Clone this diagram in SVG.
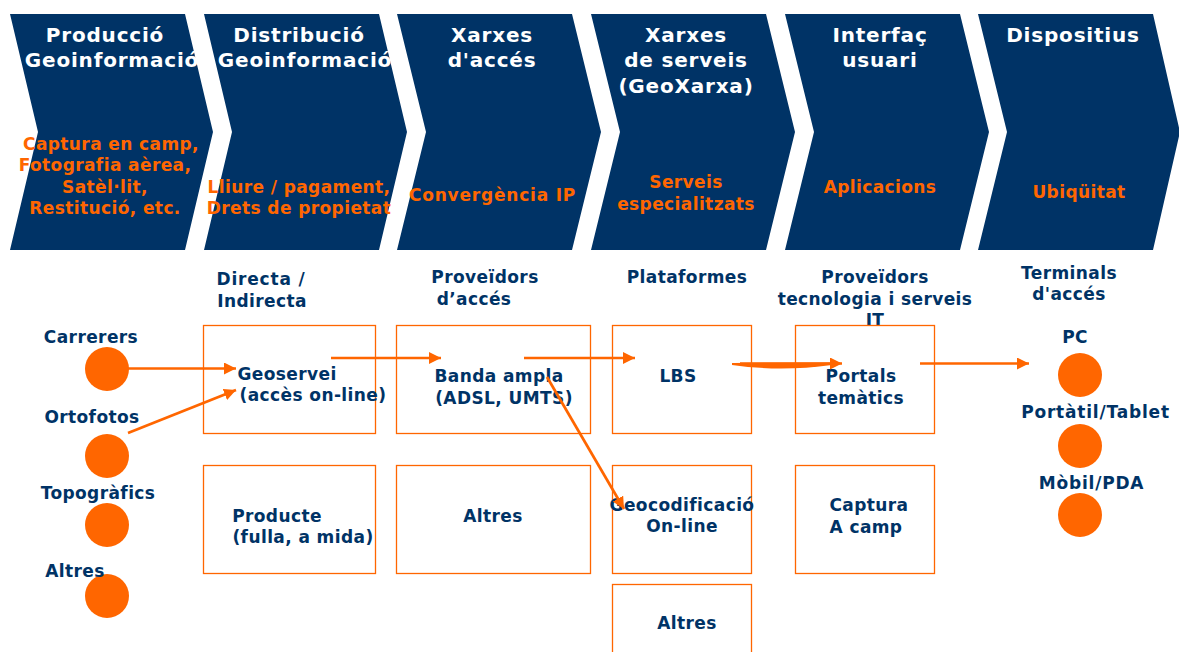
<svg xmlns="http://www.w3.org/2000/svg" width="1179" height="652" viewBox="0 0 1179 652">
<style>
text{font-family:Verdana,"DejaVu Sans",sans-serif;font-weight:700;text-anchor:middle;letter-spacing:.4px}
.h{font-size:20px;fill:#fff;letter-spacing:.8px}
.o{font-size:17px;fill:#ff6600}
.d{font-size:17px;fill:#003366}
.w{letter-spacing:.8px}
.chev{fill:#003366}
.box{fill:none;stroke:#ff6600;stroke-width:1.3}
.dot{fill:#ff6600}
.arr{stroke:#ff6600;stroke-width:2.7;fill:none;marker-end:url(#a)}
</style>
<defs><marker id="a" markerUnits="userSpaceOnUse" markerWidth="12" markerHeight="12" refX="12" refY="6" orient="auto"><path d="M0 0L12 6L0 12z" fill="#ff6600"/></marker></defs>
<g id="step1"><path class="chev" d="M10 14H185L213 132L185 250H10L38 132z"/><text class="h" x="105" y="42">Producció</text><text class="h" x="112" y="67">Geoinformació</text><text class="o" x="111" y="150">Captura en camp,</text><text class="o" x="105" y="171">Fotografia aèrea,</text><text class="o" x="105" y="193">Satèl·lit,</text><text class="o" x="105" y="214">Restitució, etc.</text></g>
<g id="step2"><path class="chev" d="M204 14H379L407 132L379 250H204L232 132z"/><text class="h" x="299" y="42">Distribució</text><text class="h" x="305" y="67">Geoinformació</text><text class="o" x="299" y="193">Lliure / pagament,</text><text class="o" x="299" y="214">Drets de propietat</text></g>
<g id="step3"><path class="chev" d="M397 14H572L601 132L572 250H397L426 132z"/><text class="h" x="492" y="42">Xarxes</text><text class="h" x="492" y="67">d'accés</text><text class="o w" x="492.500" y="201">Convergència IP</text></g>
<g id="step4"><path class="chev" d="M591 14H766L795 132L766 250H591L620 132z"/><text class="h" x="686" y="42">Xarxes</text><text class="h" x="686" y="67">de serveis</text><text class="h" x="686" y="93">(GeoXarxa)</text><text class="o" x="686" y="188">Serveis</text><text class="o" x="686" y="210">especialitzats</text></g>
<g id="step5"><path class="chev" d="M785 14H960L989 132L960 250H785L814 132z"/><text class="h" x="880" y="42">Interfaç</text><text class="h" x="880" y="67">usuari</text><text class="o" x="880" y="193">Aplicacions</text></g>
<g id="step6"><path class="chev" d="M978 14H1153L1180 132L1153 250H978L1007 132z"/><text class="h" x="1073" y="42">Dispositius</text><text class="o" x="1079" y="198">Ubiqüitat</text></g>
<g id="head-directa"><text class="d w" x="261" y="285">Directa /</text><text class="d" x="262" y="307">Indirecta</text></g>
<g id="head-proveidors"><text class="d" x="485" y="283">Proveïdors</text><text class="d" x="474" y="305">d’accés</text></g>
<g id="head-plataformes"><text class="d" x="687" y="283">Plataformes</text></g>
<g id="head-tecnologia"><text class="d" x="875" y="283">Proveïdors</text><text class="d" x="875" y="305">tecnologia i serveis</text><text class="d" x="875" y="326">IT</text></g>
<g id="head-terminals"><text class="d" x="1069" y="279">Terminals</text><text class="d" x="1069" y="300">d'accés</text></g>
<g id="box-geoservei"><rect class="box" x="203.500" y="325.500" width="172" height="108"/><text class="d" x="287" y="380">Geoservei</text><text class="d" x="313" y="401">(accès on-line)</text></g>
<g id="box-banda"><rect class="box" x="396.500" y="325.500" width="194" height="108"/><text class="d" x="499" y="382">Banda ampla</text><text class="d" x="504" y="404">(ADSL, UMTS)</text></g>
<g id="box-lbs"><rect class="box" x="612.500" y="325.500" width="139" height="108"/><text class="d" x="678" y="382">LBS</text></g>
<g id="box-portals"><rect class="box" x="795.500" y="325.500" width="139" height="108"/><text class="d" x="861" y="382">Portals</text><text class="d" x="861" y="404">temàtics</text></g>
<g id="box-producte"><rect class="box" x="203.500" y="465.500" width="172" height="108"/><text class="d" x="277" y="522">Producte</text><text class="d" x="303" y="543">(fulla, a mida)</text></g>
<g id="box-altres1"><rect class="box" x="396.500" y="465.500" width="194" height="108"/><text class="d" x="493" y="522">Altres</text></g>
<g id="box-geocod"><rect class="box" x="612.500" y="465.500" width="139" height="108"/><text class="d" x="682" y="511">Geocodificació</text><text class="d" x="682" y="532">On-line</text></g>
<g id="box-captura"><rect class="box" x="795.500" y="465.500" width="139" height="108"/><text class="d" x="869" y="511">Captura</text><text class="d" x="866" y="533">A camp</text></g>
<g id="box-altres2"><rect class="box" x="612.500" y="584.500" width="139" height="80"/><text class="d" x="687" y="629">Altres</text></g>
<g id="src-carrerers"><circle class="dot" cx="107" cy="369" r="22"/><text class="d" x="91" y="343">Carrerers</text></g>
<g id="src-ortofotos"><circle class="dot" cx="107" cy="456" r="22"/><text class="d" x="92" y="423">Ortofotos</text></g>
<g id="src-topografics"><circle class="dot" cx="107" cy="525" r="22"/><text class="d" x="98" y="499">Topogràfics</text></g>
<g id="src-altres"><circle class="dot" cx="107" cy="596" r="22"/><text class="d" x="75" y="577">Altres</text></g>
<g id="dev-pc"><circle class="dot" cx="1080" cy="375" r="22"/><text class="d" x="1075" y="343">PC</text></g>
<g id="dev-portatil"><circle class="dot" cx="1080" cy="446" r="22"/><text class="d w" x="1095.500" y="418">Portàtil/Tablet</text></g>
<g id="dev-mobil"><circle class="dot" cx="1080" cy="515" r="22"/><text class="d w" x="1091.500" y="489">Mòbil/PDA</text></g>
<g id="connectors">
<path class="arr" d="M128 368.500H236"/>
<path class="arr" d="M128 433L236 390"/>
<path class="arr" d="M331 358H441"/>
<path class="arr" d="M524 358H635"/>
<path class="arr" d="M547 377L624 509"/>
<path d="M732 363L832 362.500V365Q780 372 732 365z" fill="#ff6600"/>
<path class="arr" d="M740 363.500H842"/>
<path class="arr" d="M920 363.500H1029"/>
</g>
</svg>
